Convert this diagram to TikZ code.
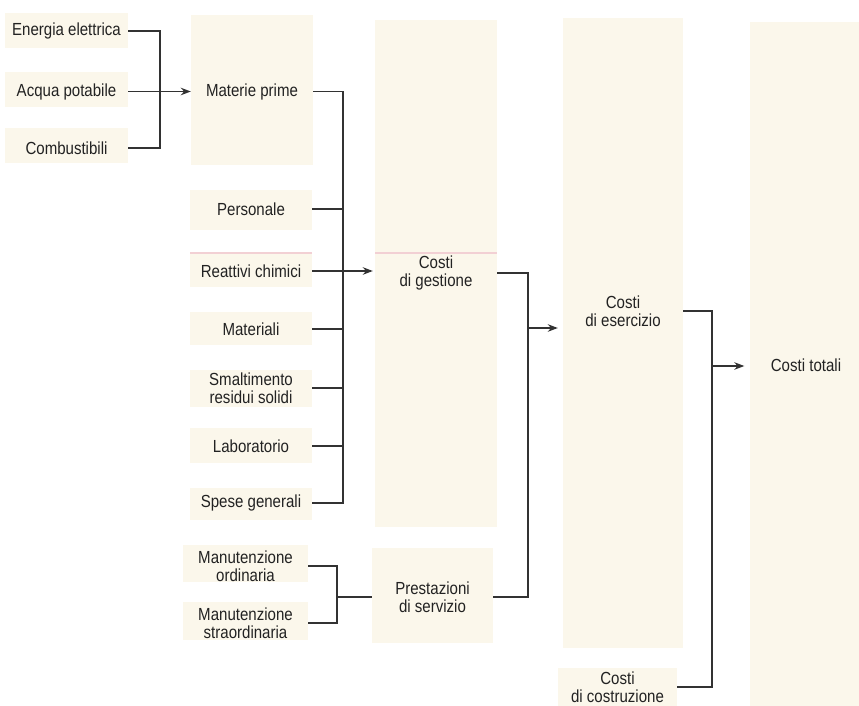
\documentclass[tikz,border=0pt]{standalone}
\usepackage{fontspec}
\setmainfont[FakeStretch=0.86]{Liberation Sans}
\usetikzlibrary{arrows.meta}
\definecolor{beige}{RGB}{251,247,235}
\definecolor{ink}{RGB}{34,34,34}
\definecolor{wire}{RGB}{50,50,50}
\definecolor{pinkline}{RGB}{242,208,212}
\begin{document}
\begin{tikzpicture}[x=1pt,y=-1pt,
  lbl/.style={font=\fontsize{17.5}{18.5}\selectfont, text=ink, align=center, inner sep=0pt, minimum height=16pt},
  wireline/.style={draw=wire, line width=1.4pt},
  arr/.style={wireline, -{Stealth[length=10pt,width=7.5pt]}}]
\useasboundingbox[fill=white] (0,0) rectangle (859,706);
% background panels
\fill[beige] (5,13) rectangle (128,48);
\fill[beige] (5,72) rectangle (128,107);
\fill[beige] (5,128) rectangle (128,163);
\fill[beige] (191,15) rectangle (313,165);
\fill[beige] (190,190) rectangle (312,230);
\fill[beige] (190,252) rectangle (312,287);
\fill[beige] (190,312) rectangle (312,345);
\fill[beige] (190,370) rectangle (312,407);
\fill[beige] (190,428) rectangle (312,463);
\fill[beige] (190,488) rectangle (312,520);
\fill[beige] (183,545) rectangle (308,582);
\fill[beige] (183,602) rectangle (308,640);
\fill[beige] (375,20) rectangle (497,527);
\fill[beige] (372,548) rectangle (493,643);
\fill[beige] (563,18) rectangle (683,648);
\fill[beige] (558,668) rectangle (677,706);
\fill[beige] (750,22) rectangle (859,706);
\draw[pinkline, line width=1.2pt] (190,253) -- (312,253);
\draw[pinkline, line width=1.2pt] (375,253) -- (497,253);
% labels
\node[lbl, minimum width=123pt] (energia) at (66.5,31) {Energia elettrica};
\node[lbl, minimum width=123pt] (acqua) at (66.5,91.5) {Acqua potabile};
\node[lbl, minimum width=123pt] (comb) at (66.5,148) {Combustibili};
\node[lbl, minimum width=122pt] (materie) at (252,91.5) {Materie prime};
\node[lbl, minimum width=122pt] (personale) at (251,209) {Personale};
\node[lbl, minimum width=122pt] (reattivi) at (251,271) {Reattivi chimici};
\node[lbl, minimum width=122pt] (materiali) at (251,329) {Materiali};
\node[lbl, minimum width=122pt] (smalt) at (251,388) {Smaltimento\\residui solidi};
\node[lbl, minimum width=122pt] (lab) at (251,446) {Laboratorio};
\node[lbl, minimum width=122pt] (spese) at (251,503) {Spese generali};
\node[lbl, minimum width=125pt] (ord) at (245.5,566) {Manutenzione\\ordinaria};
\node[lbl, minimum width=125pt] (stra) at (245.5,623) {Manutenzione\\straordinaria};
\node[lbl, minimum width=122pt] (gestione) at (436,273) {Costi\\di gestione};
\node[lbl, minimum width=121pt] (prest) at (432.5,597) {Prestazioni\\di servizio};
\node[lbl, minimum width=120pt] (esercizio) at (623,311) {Costi\\di esercizio};
\node[lbl, minimum width=119pt] (costr) at (617.5,687) {Costi\\di costruzione};
\node[lbl, minimum width=109pt] (totali) at (806,365) {Costi totali};
% junction coordinates
\coordinate (v1) at (160,0);
\coordinate (v2) at (343,0);
\coordinate (v3) at (337,0);
\coordinate (v4) at (528,0);
\coordinate (j4) at (528,328);
\coordinate (v5) at (712,0);
\coordinate (j5) at (712,366);
% connectors
\draw[wireline] (energia.east) -| (v1 |- comb.east) -- (comb.east);
\draw[arr] (acqua.east) -- (materie.west);
\draw[wireline] (materie.east) -| (v2 |- spese.east) -- (spese.east);
\foreach \n in {personale,materiali,smalt,lab}
  \draw[wireline] (\n.east) -- (\n.east -| v2);
\draw[arr, shorten >=2pt] (reattivi.east) -- (gestione.west |- reattivi.east);
\draw[wireline] (ord.east) -| (v3 |- stra.east) -- (stra.east);
\draw[wireline] (v3 |- prest.west) -- (prest.west);
\draw[wireline] (gestione.east) -| (v4 |- prest.east) -- (prest.east);
\draw[arr, shorten >=5pt] (j4) -- (esercizio.west |- j4);
\draw[wireline] (esercizio.east) -| (v5 |- costr.east) -- (costr.east);
\draw[arr, shorten >=7pt] (j5) -- (totali.west |- j5);
\end{tikzpicture}
\end{document}
